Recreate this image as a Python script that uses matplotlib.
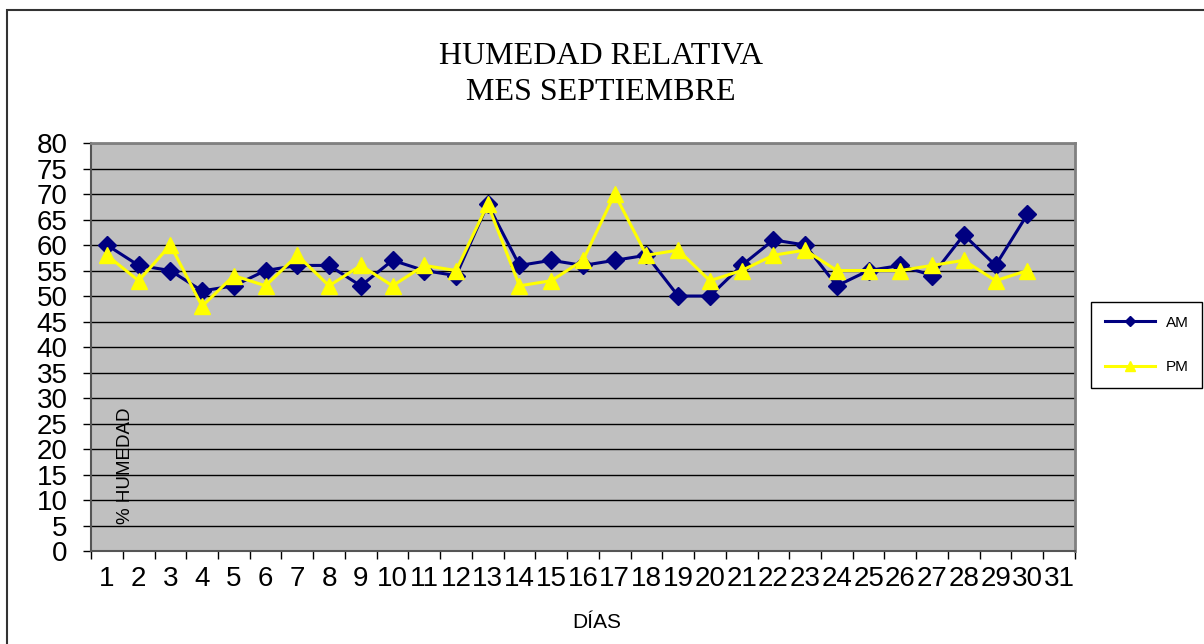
import matplotlib.pyplot as plt
from matplotlib.patches import Rectangle

##====================
## datos: humedad relativa, septiembre
##====================
dias = list(range(1, 32))
dia_labels = [str(d) for d in dias]
am = [60, 56, 55, 51, 52, 55, 56, 56, 52, 57, 55, 54, 68, 56, 57,
      56, 57, 58, 50, 50, 56, 61, 60, 52, 55, 56, 54, 62, 56, 66]
pm = [58, 53, 60, 48, 54, 52, 58, 52, 56, 52, 56, 55, 68, 52, 53,
      57, 70, 58, 59, 53, 55, 58, 59, 55, 55, 55, 56, 57, 53, 55]
y_ticks = list(range(0, 81, 5))

fig = plt.figure(figsize=(12.04, 6.44), dpi=100)
ax = fig.add_axes([0.0756, 0.1444, 0.8172, 0.6335])
ax.set_facecolor("#c0c0c0")

# marco exterior del grafico
fig.patches.append(Rectangle((7/1204, -0.05), 1.1, 1.05 - 10/644, transform=fig.transFigure,
                             fill=False, edgecolor="#333333", linewidth=1.5))

ax.plot(dias[:len(am)], am, color="#000080", lw=2.2, marker="D", ms=9.5, label="AM", zorder=3)
ax.plot(dias[:len(pm)], pm, color="#ffff00", lw=2.2, marker="^", ms=12, label="PM", zorder=4)

ax.set_xlim(0.5, 31.5)
ax.set_ylim(0, 80)
ax.set_yticks(y_ticks)
ax.set_yticklabels([str(v) for v in y_ticks], fontname="Liberation Sans", fontsize=20)
ax.set_xticks(dias)
ax.set_xticklabels(dia_labels, fontname="Liberation Sans", fontsize=20)
ax.set_xticks([d + 0.5 for d in range(0, 32)], minor=True)
ax.tick_params(axis="x", which="major", length=0, pad=11)
ax.tick_params(axis="x", which="minor", length=6, width=1, color="black")
ax.tick_params(axis="y", length=6, width=1, pad=11)

ax.yaxis.grid(True, color="black", lw=1)
ax.set_axisbelow(True)
for s in ["top", "right"]:
    ax.spines[s].set_color("#808080")
    ax.spines[s].set_linewidth(2)
for s in ["left", "bottom"]:
    ax.spines[s].set_color("#555555")
    ax.spines[s].set_linewidth(1.5)

# etiquetas
ax.text(0.0346, 0.21, "% HUMEDAD", transform=ax.transAxes, rotation=90,
        ha="center", va="center", fontname="Liberation Sans", fontsize=13.5)
fig.text(0.496, 0.034, "DÍAS", ha="center", va="center", fontname="Liberation Sans", fontsize=15)
fig.text(0.499, 0.912, "HUMEDAD RELATIVA", ha="center", va="center",
         fontname="Liberation Serif", fontsize=23)
fig.text(0.499, 0.857, "MES SEPTIEMBRE", ha="center", va="center",
         fontname="Liberation Serif", fontsize=23)

leg = fig.legend(loc="upper left", bbox_to_anchor=(0.906, 0.531), borderaxespad=0,
                 fancybox=False, edgecolor="black", framealpha=1, handlelength=3.3,
                 handletextpad=0.7, labelspacing=2.0, borderpad=0.9, markerscale=0.55,
                 prop={"family": "Liberation Sans", "size": 11})
leg.get_frame().set_linewidth(1)

fig.savefig("out.png", dpi=100)
